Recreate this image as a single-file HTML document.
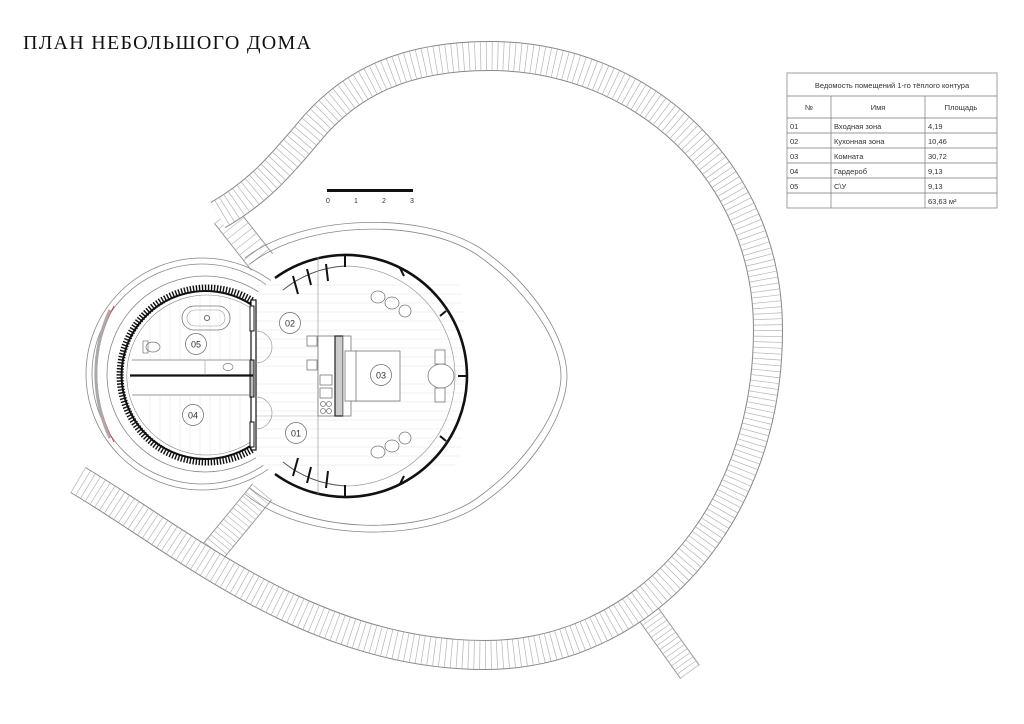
<!DOCTYPE html>
<html><head><meta charset="utf-8"><style>
html,body{margin:0;padding:0;background:#fff;}
svg{display:block;}
</style></head><body>
<svg width="1024" height="724" viewBox="0 0 1024 724" xmlns="http://www.w3.org/2000/svg" font-family="Liberation Sans, sans-serif">
<defs>
<path id="ring" d="M 78 480 C 180 540, 310 655, 485 655 C 640 655, 768 520, 768 330 C 768 170, 640 56, 490 56 C 400 56, 350 86, 315 125 C 285 160, 262 190, 218 215"/>
<path id="sp1" d="M 262 492 L 206 560"/>
<path id="sp2" d="M 637 598 L 690 672"/>
<path id="sp3" d="M 225 215 L 262 262"/>
</defs>
<rect width="1024" height="724" fill="#fff"/>
<text x="23" y="49" font-family="Liberation Serif, serif" font-size="20" textLength="288" fill="#111">ПЛАН НЕБОЛЬШОГО ДОМА</text>

<!-- decks -->
<g fill="none">
<use href="#sp1" stroke="#999" stroke-width="26"/><use href="#sp1" stroke="#fff" stroke-width="24"/><use href="#sp1" stroke="#bbb" stroke-width="24" stroke-dasharray="0.7 4.3"/>
<use href="#sp2" stroke="#999" stroke-width="24"/><use href="#sp2" stroke="#fff" stroke-width="22"/><use href="#sp2" stroke="#bbb" stroke-width="22" stroke-dasharray="0.7 4.3"/>
<use href="#sp3" stroke="#999" stroke-width="28"/><use href="#sp3" stroke="#fff" stroke-width="26"/><use href="#sp3" stroke="#bbb" stroke-width="26" stroke-dasharray="0.7 6"/>
<use href="#ring" stroke="#888" stroke-width="30"/><use href="#ring" stroke="#fff" stroke-width="28"/><use href="#ring" stroke="#b5b5b5" stroke-width="28" stroke-dasharray="0.7 5"/>
</g>

<!-- scale bar -->
<rect x="327" y="189" width="86" height="3" fill="#111"/>
<g font-size="7" fill="#333" text-anchor="middle"><text x="328" y="203">0</text><text x="356" y="203">1</text><text x="384" y="203">2</text><text x="412" y="203">3</text></g>

<!-- terrace egg -->
<g fill="none" stroke="#888" stroke-width="0.8">
<path d="M 245 258 C 300 215, 420 210, 480 248 C 535 285, 567 340, 567 376 C 567 412, 535 468, 480 505 C 420 545, 300 540, 245 494"/>
<path d="M 250 264 C 303 222, 418 217, 476 254 C 528 290, 561 342, 561 376 C 561 410, 528 462, 476 499 C 418 538, 303 533, 250 488"/>
<circle cx="202" cy="374" r="116"/>
<circle cx="202" cy="374" r="110"/>
<circle cx="205" cy="374" r="98"/>
<path d="M 114 306 A 143 143 0 0 0 114 442" stroke="#c33" stroke-width="0.8"/>
<path d="M 110 310 A 152 152 0 0 0 110 438" stroke="#aaa" stroke-width="3"/>
</g>
<!-- white interiors -->
<circle cx="345" cy="376" r="121" fill="#fff"/>
<circle cx="209" cy="375" r="87" fill="#fff"/>
<rect x="253" y="300" width="40" height="150" fill="#fff"/>

<!-- floor hatch right -->
<g stroke="#e3e3e3" stroke-width="0.6">
<line x1="256" y1="285" x2="460" y2="285"/><line x1="256" y1="294" x2="462" y2="294"/><line x1="256" y1="303" x2="462" y2="303"/><line x1="256" y1="312" x2="464" y2="312"/><line x1="256" y1="321" x2="464" y2="321"/><line x1="256" y1="330" x2="464" y2="330"/><line x1="256" y1="339" x2="464" y2="339"/><line x1="256" y1="348" x2="464" y2="348"/><line x1="256" y1="357" x2="464" y2="357"/><line x1="256" y1="366" x2="464" y2="366"/><line x1="256" y1="384" x2="464" y2="384"/><line x1="256" y1="393" x2="464" y2="393"/><line x1="256" y1="402" x2="464" y2="402"/><line x1="256" y1="411" x2="464" y2="411"/><line x1="256" y1="420" x2="464" y2="420"/><line x1="256" y1="429" x2="464" y2="429"/><line x1="256" y1="438" x2="462" y2="438"/><line x1="256" y1="447" x2="462" y2="447"/><line x1="256" y1="456" x2="460" y2="456"/><line x1="256" y1="465" x2="455" y2="465"/>
</g>
<g stroke="#e6e6e6" stroke-width="0.6">
<line x1="150" y1="300" x2="150" y2="450"/><line x1="160" y1="296" x2="160" y2="455"/><line x1="170" y1="293" x2="170" y2="458"/><line x1="180" y1="291" x2="180" y2="460"/><line x1="190" y1="290" x2="190" y2="460"/><line x1="200" y1="290" x2="200" y2="460"/><line x1="210" y1="290" x2="210" y2="460"/><line x1="220" y1="290" x2="220" y2="460"/><line x1="230" y1="292" x2="230" y2="458"/><line x1="240" y1="294" x2="240" y2="456"/>
</g>
<rect x="140" y="360" width="113" height="35" fill="#fff"/>

<!-- right building walls -->
<g fill="none" stroke="#111">
<path d="M 275 278 A 121 121 0 1 1 275 474" stroke-width="2.6"/>
<path d="M 283 290 A 108 108 0 0 1 345 266" stroke="#555" stroke-width="1"/>
<path d="M 283 462 A 108 108 0 0 0 345 486" stroke="#555" stroke-width="1"/>
<path d="M 345 266 A 110 110 0 0 1 455 376 A 110 110 0 0 1 345 486" stroke="#999" stroke-width="0.7"/>
<g stroke-width="2">
<line x1="293" y1="276" x2="298" y2="294"/><line x1="307" y1="269" x2="311" y2="285"/><line x1="326" y1="264" x2="328" y2="281"/><line x1="345" y1="255" x2="345" y2="267"/>
<line x1="293" y1="476" x2="298" y2="458"/><line x1="307" y1="483" x2="311" y2="467"/><line x1="326" y1="488" x2="328" y2="471"/><line x1="345" y1="497" x2="345" y2="485"/>
<line x1="400" y1="268" x2="404" y2="276"/><line x1="440" y1="316" x2="446" y2="311"/><line x1="458" y1="376" x2="466" y2="376"/><line x1="440" y1="436" x2="446" y2="441"/><line x1="400" y1="484" x2="404" y2="476"/>
</g>
<line x1="318" y1="257" x2="318" y2="494" stroke="#999" stroke-width="0.7"/>
<line x1="256" y1="416" x2="318" y2="416" stroke="#aaa" stroke-width="0.6"/>
</g>
<!-- left building -->
<g fill="none">
<path d="M 252 300.5 A 87 87 0 1 0 252 449.5" stroke="#111" stroke-width="7" stroke-dasharray="1.4 1.6"/>
<path d="M 252 305 A 84 84 0 1 0 252 445" stroke="#111" stroke-width="2"/>
<path d="M 252 309 A 80 80 0 1 0 252 441" stroke="#888" stroke-width="0.6"/>
<rect x="251" y="300" width="5" height="150" fill="#fff" stroke="#111" stroke-width="1.2"/>
<rect x="250" y="306" width="4" height="25" fill="#fff" stroke="#111"/>
<rect x="250" y="360" width="4" height="37" fill="#bbb" stroke="#111"/>
<rect x="250" y="422" width="4" height="25" fill="#fff" stroke="#111"/>
<line x1="130" y1="375.5" x2="253" y2="375.5" stroke="#111" stroke-width="2.2"/>
<line x1="132" y1="360" x2="250" y2="360" stroke="#777" stroke-width="0.7"/>
<line x1="132" y1="395" x2="250" y2="395" stroke="#777" stroke-width="0.7"/>
<line x1="205" y1="360" x2="205" y2="375" stroke="#999" stroke-width="0.6"/>
<path d="M 256 331 A 16 16 0 0 1 256 363" stroke="#999" stroke-width="0.7"/>
<path d="M 256 397 A 16 16 0 0 1 256 429" stroke="#999" stroke-width="0.7"/>
<rect x="182" y="306" width="48" height="24" rx="12" stroke="#777" stroke-width="0.8"/>
<rect x="187" y="310" width="38" height="16" rx="8" stroke="#999" stroke-width="0.6"/>
<circle cx="207" cy="318" r="2.5" stroke="#666"/>
<rect x="143" y="341" width="5" height="12" stroke="#777" stroke-width="0.7"/>
<ellipse cx="153" cy="347" rx="7" ry="5" stroke="#777" stroke-width="0.7"/>
<ellipse cx="228" cy="367" rx="5" ry="3.5" stroke="#777" stroke-width="0.7"/>
</g>
<!-- furniture -->
<g fill="#fff" stroke="#777" stroke-width="0.8">
<rect x="307" y="336" width="10" height="10"/><rect x="307" y="360" width="10" height="10"/>
<rect x="318" y="336" width="17" height="80"/>
<rect x="320" y="375" width="12" height="10"/><rect x="320" y="388" width="12" height="10"/><circle cx="323" cy="404" r="2.5"/><circle cx="329" cy="404" r="2.5"/><circle cx="323" cy="411" r="2.5"/><circle cx="329" cy="411" r="2.5"/>
<rect x="335" y="336" width="8" height="80" fill="#ccc" stroke="#222" stroke-width="1.2"/>
<rect x="343" y="336" width="8" height="80"/>
<rect x="345" y="351" width="12" height="50"/>
<rect x="356" y="351" width="44" height="50"/>
<ellipse cx="441" cy="376" rx="13" ry="12"/>
<rect x="435" y="350" width="10" height="14"/><rect x="435" y="388" width="10" height="14"/>
<ellipse cx="378" cy="297" rx="7" ry="6"/><ellipse cx="392" cy="303" rx="7" ry="6"/><ellipse cx="405" cy="311" rx="6" ry="6"/>
<ellipse cx="378" cy="452" rx="7" ry="6"/><ellipse cx="392" cy="446" rx="7" ry="6"/><ellipse cx="405" cy="438" rx="6" ry="6"/>
</g>
<g fill="#fff" stroke="#666" stroke-width="0.7">
<circle cx="290" cy="323" r="10.5"/><circle cx="196" cy="344" r="10.5"/><circle cx="193" cy="415" r="10.5"/><circle cx="296" cy="433" r="10.5"/><circle cx="381" cy="375" r="10.5"/>
</g>
<g font-size="9" fill="#333" text-anchor="middle">
<text x="290" y="326.5">02</text><text x="196" y="347.5">05</text><text x="193" y="418.5">04</text><text x="296" y="436.5">01</text><text x="381" y="378.5">03</text>
</g>

<!-- table -->
<g fill="none" stroke="#777" stroke-width="0.7">
<rect x="787" y="73" width="210" height="135" fill="#fff"/>
<line x1="787" y1="96" x2="997" y2="96"/><line x1="787" y1="118" x2="997" y2="118"/>
<line x1="787" y1="133" x2="997" y2="133"/><line x1="787" y1="148" x2="997" y2="148"/><line x1="787" y1="163" x2="997" y2="163"/><line x1="787" y1="178" x2="997" y2="178"/><line x1="787" y1="193" x2="997" y2="193"/>
<line x1="831" y1="96" x2="831" y2="208"/><line x1="925" y1="96" x2="925" y2="208"/>
</g>
<g font-size="7.5" fill="#333">
<text x="892" y="88" text-anchor="middle">Ведомость помещений 1-го тёплого контура</text>
<text x="809" y="110" text-anchor="middle">№</text><text x="878" y="110" text-anchor="middle">Имя</text><text x="961" y="110" text-anchor="middle">Площадь</text>
<text x="790" y="129">01</text><text x="834" y="129">Входная зона</text><text x="928" y="129">4,19</text>
<text x="790" y="144">02</text><text x="834" y="144">Кухонная зона</text><text x="928" y="144">10,46</text>
<text x="790" y="159">03</text><text x="834" y="159">Комната</text><text x="928" y="159">30,72</text>
<text x="790" y="174">04</text><text x="834" y="174">Гардероб</text><text x="928" y="174">9,13</text>
<text x="790" y="189">05</text><text x="834" y="189">С\У</text><text x="928" y="189">9,13</text>
<text x="928" y="204">63,63 м²</text>
</g>
</svg>
</body></html>
